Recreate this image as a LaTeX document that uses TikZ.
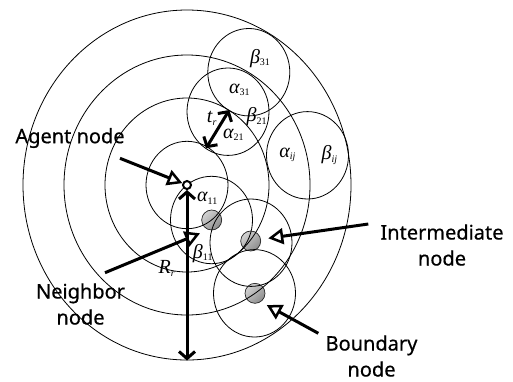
\documentclass[tikz,border=0pt]{standalone}
\usepackage{fontspec}
\setmainfont{Noto Sans}
\newfontfamily\lbl[FakeBold=0.5]{Noto Sans}
\newfontfamily\tnr{Liberation Serif}
\usetikzlibrary{arrows.meta}
\newcommand\grk[2]{{\fontsize{20}{20}\selectfont\tnr\itshape #1}\raisebox{-0.45ex}{\fontsize{10}{10}\selectfont\tnr #2}}
\begin{document}
\begin{tikzpicture}[x=1pt,y=-1pt,
  ring/.style={draw, line width=0.8pt},
  gball/.style={circle, minimum size=20pt, inner sep=0pt, top color=gray!35, bottom color=gray!90, shading angle=45, draw=black!85, line width=0.7pt},
  agentdot/.style={circle, draw, line width=2pt, fill=white, minimum size=8pt, inner sep=0pt},
  callout/.style={line width=3pt, -{Triangle[open, fill=white, length=15pt, width=16pt, line width=2.5pt]}},
  dblarrow/.style={line width=3pt, {Straight Barb[length=7pt,width=16pt]}-{Straight Barb[length=7pt,width=16pt]}},
  txt/.style={font=\lbl\fontsize{20}{26}\selectfont, align=center, inner sep=0pt},
  mlab/.style={inner sep=0pt}]
\useasboundingbox (0,0) rectangle (513,381);
% relay nodes (drawn under the circles)
\node[gball] (nb) at (211.7,220) {};
\node[gball] (im) at (250.7,241) {};
\node[gball] (bd) at (255,293.3) {};
% concentric rings around the agent
\draw[ring] (187,185) ellipse [x radius=164, y radius=175];
\draw[ring] (187,185) ellipse [x radius=123, y radius=130];
\draw[ring] (187,185) ellipse [x radius=82, y radius=87];
\draw[ring] (187,185) ellipse [x radius=41, y radius=43.7];
% small circles
\draw[ring] (248.8,72.2) ellipse [x radius=41, y radius=43.7];
\draw[ring] (228,111.7) ellipse [x radius=41, y radius=43.7];
\draw[ring] (307.5,155.3) ellipse [x radius=41, y radius=43.7];
\draw[ring] (211.5,220) ellipse [x radius=41, y radius=43.7];
\draw[ring] (251,242.7) ellipse [x radius=41, y radius=43.7];
\draw[ring] (254.5,293.3) ellipse [x radius=41, y radius=43.7];
% agent
\node[agentdot] (ag) at (187,185) {};
% math labels
\node[mlab] (b31) at (260,58.3) {\grk{β}{31}};
\node[mlab] (a31) at (239.3,90) {\grk{α}{31}};
\node[mlab] (b21) at (256.7,116.7) {\grk{β}{21}};
\node[mlab] (tr) at (211.7,118.3) {\grk{t}{\itshape r}};
\node[mlab] (a21) at (233.3,135) {\grk{α}{21}};
\node[mlab] (aij) at (287.3,155) {\grk{α}{\itshape ij}};
\node[mlab] (bij) at (329.3,155) {\grk{β}{\itshape ij}};
\node[mlab] (a11) at (207.3,198.3) {\grk{α}{11}};
\node[mlab] (b11) at (202.7,253.3) {\grk{β}{11}};
\node[mlab] (rr) at (166.7,268.3) {\grk{R}{\itshape r}};
% text labels
\node[txt] (agt) at (70,138) {Agent node};
\node[txt] (nbt) at (80.5,304) {Neighbor\\node};
\node[txt] (imt) at (442,245) {Intermediate\\node};
\node[txt] (bdt) at (371.5,356) {Boundary\\node};
% arrow end points
\coordinate (agS) at (120,158.3);
\coordinate (nbS) at (105,272.7);
\coordinate (nbE) at (200,233.3);
\coordinate (imS) at (368.3,224);
\coordinate (imE) at (268.3,238.3);
\coordinate (bdS) at (318.3,333.3);
\coordinate (bdE) at (266.7,305);
\coordinate (rrE) at (187,360.5);
\coordinate (trA) at (229.3,110);
\coordinate (trB) at (206,148.3);
% arrows
\draw[callout] (agS) -- (ag);
\draw[callout] (nbS) -- (nbE);
\draw[callout] (imS) -- (imE);
\draw[callout] (bdS) -- (bdE);
\draw[dblarrow] (ag) -- (rrE);
\draw[dblarrow] (trA) -- (trB);
\end{tikzpicture}
\end{document}
